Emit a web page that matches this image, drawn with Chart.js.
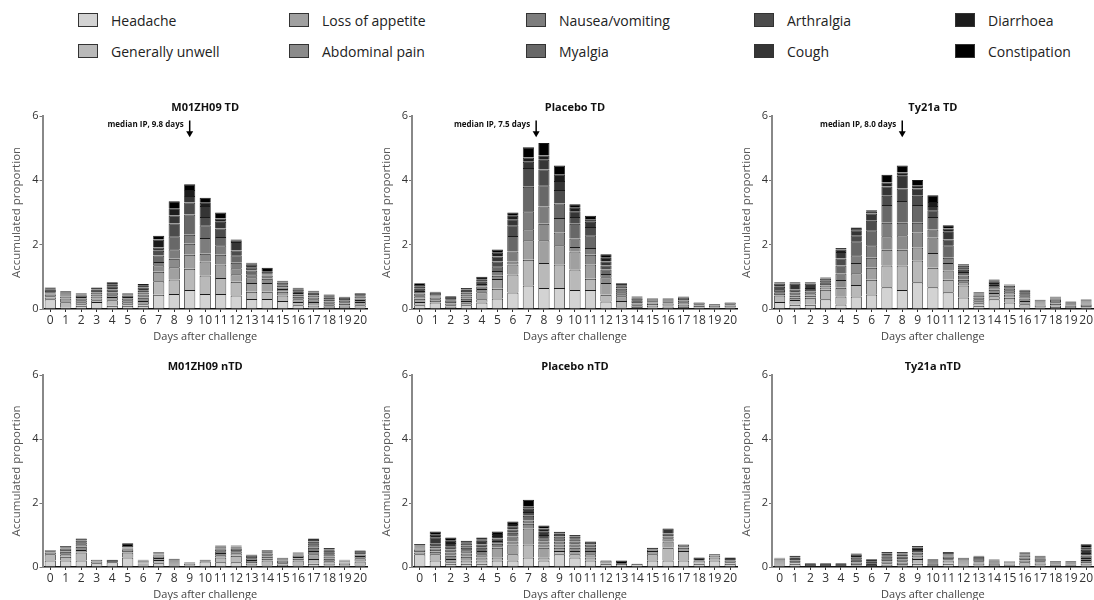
<!DOCTYPE html>
<html>
<head>
<meta charset="utf-8">
<script src="https://cdn.jsdelivr.net/npm/chart.js@4.4.1/dist/chart.umd.min.js"></script>
<style>
  html, body { margin: 0; padding: 0; background: #fff; }
  #page { position: relative; width: 1094px; height: 600px; overflow: hidden; font-family: "Open Sans", sans-serif; }
  #page canvas { position: absolute; }
  .key { position: absolute; height: 16px; display: flex; align-items: center; font-size: 14px; color: #222; white-space: nowrap; }
  .key .box { width: 18px; height: 12px; border: 1px solid #333; margin-right: 13px; }
</style>
</head>
<body>
<div id="page"></div>
<script>
// symptom order, bottom of each stack first
const symptoms = ["Headache", "Generally unwell", "Loss of appetite", "Abdominal pain", "Nausea/vomiting",
  "Myalgia", "Arthralgia", "Cough", "Diarrhoea", "Constipation"];
const shades = ["#d3d3d3", "#b9b9b9", "#a0a0a0", "#8b8b8b", "#7d7d7d", "#686868", "#4c4c4c", "#353535", "#1c1c1c", "#000000"];

const days = ["0","1","2","3","4","5","6","7","8","9","10","11","12","13","14","15","16","17","18","19","20"];
const yTicks = [0, 2, 4, 6];

const panelTitles = ["M01ZH09 TD", "Placebo TD", "Ty21a TD", "M01ZH09 nTD", "Placebo nTD", "Ty21a nTD"];
const medianDays = [9, 7.5, 8];
const medianLabels = ["median IP, 9.8 days", "median IP, 7.5 days", "median IP, 8.0 days"];

// one row per day, one value per symptom (same order as symptoms)
const m01TD = [
  [0.30,0.05,0.05,0.04,0.04,0.04,0.04,0.04,0.03,0.04],
  [0.04,0.17,0.12,0.06,0.04,0.03,0.03,0.03,0.02,0.02],
  [0.10,0.05,0.06,0.06,0.05,0.05,0.04,0.04,0.03,0.02],
  [0.22,0.05,0.06,0.06,0.06,0.06,0.05,0.05,0.04,0.02],
  [0.10,0.17,0.10,0.06,0.04,0.04,0.10,0.10,0.06,0.06],
  [0.10,0.05,0.06,0.06,0.05,0.05,0.05,0.04,0.02,0.02],
  [0.10,0.05,0.10,0.10,0.10,0.06,0.06,0.10,0.05,0.06],
  [0.44,0.42,0.30,0.20,0.10,0.20,0.15,0.10,0.25,0.12],
  [0.47,0.45,0.38,0.26,0.30,0.40,0.40,0.25,0.22,0.22],
  [0.59,0.66,0.44,0.34,0.28,0.63,0.37,0.20,0.19,0.18],
  [0.47,0.57,0.44,0.24,0.49,0.39,0.26,0.34,0.10,0.16],
  [0.47,0.49,0.42,0.31,0.29,0.26,0.26,0.21,0.10,0.19],
  [0.42,0.43,0.23,0.19,0.17,0.23,0.15,0.26,0.04,0.04],
  [0.31,0.23,0.27,0.18,0.09,0.12,0.10,0.09,0.03,0.02],
  [0.31,0.23,0.27,0.13,0.05,0.05,0.03,0.04,0.05,0.12],
  [0.25,0.17,0.12,0.08,0.05,0.05,0.05,0.05,0.03,0.03],
  [0.12,0.10,0.08,0.08,0.06,0.06,0.05,0.05,0.03,0.03],
  [0.05,0.05,0.12,0.08,0.06,0.06,0.05,0.04,0.03,0.03],
  [0.03,0.03,0.06,0.06,0.05,0.06,0.06,0.05,0.03,0.02],
  [0.03,0.03,0.05,0.05,0.05,0.05,0.05,0.04,0.02,0.01],
  [0.05,0.07,0.10,0.06,0.05,0.05,0.05,0.04,0.02,0.01]
];

const placeboTD = [
  [0.12,0.10,0.10,0.08,0.08,0.08,0.07,0.06,0.06,0.05],
  [0.20,0.05,0.05,0.05,0.04,0.04,0.04,0.03,0.02,0.02],
  [0.02,0.05,0.05,0.05,0.05,0.04,0.04,0.04,0.03,0.03],
  [0.12,0.06,0.07,0.07,0.07,0.06,0.06,0.05,0.05,0.04],
  [0.20,0.10,0.22,0.10,0.08,0.08,0.07,0.06,0.05,0.04],
  [0.33,0.30,0.30,0.10,0.15,0.15,0.15,0.15,0.12,0.10],
  [0.51,0.56,0.31,0.10,0.31,0.48,0.33,0.19,0.11,0.10],
  [0.73,0.80,0.61,0.34,0.56,0.76,0.58,0.20,0.13,0.32],
  [0.65,0.78,0.71,0.51,0.54,0.66,0.49,0.30,0.13,0.39],
  [0.65,0.73,0.60,0.40,0.45,0.45,0.42,0.28,0.21,0.27],
  [0.59,0.64,0.56,0.14,0.26,0.46,0.21,0.18,0.11,0.11],
  [0.59,0.35,0.44,0.31,0.21,0.39,0.26,0.16,0.08,0.11],
  [0.23,0.21,0.37,0.18,0.10,0.14,0.12,0.13,0.11,0.11],
  [0.05,0.20,0.15,0.06,0.06,0.06,0.06,0.05,0.05,0.06],
  [0.02,0.04,0.06,0.05,0.05,0.05,0.05,0.04,0.02,0.02],
  [0.05,0.05,0.06,0.04,0.04,0.03,0.03,0.02,0.01,0.01],
  [0.08,0.04,0.05,0.04,0.03,0.03,0.03,0.02,0.01,0.01],
  [0.02,0.04,0.08,0.07,0.05,0.05,0.04,0.03,0.01,0.01],
  [0,0.04,0.06,0.05,0.05,0,0,0,0,0],
  [0,0,0.05,0.05,0.05,0,0,0,0,0],
  [0,0.05,0.05,0.05,0.05,0,0,0,0,0]
];

const ty21aTD = [
  [0.22,0.20,0.05,0.05,0.04,0.03,0.10,0.10,0.02,0.02],
  [0.13,0.15,0.07,0.06,0.05,0.05,0.10,0.18,0.02,0.02],
  [0.13,0.22,0.06,0.08,0.05,0.05,0.06,0.14,0.02,0.02],
  [0.30,0.30,0.07,0.06,0.05,0.05,0.05,0.07,0.02,0.02],
  [0.14,0.25,0.27,0.24,0.20,0.25,0.22,0.20,0.08,0.05],
  [0.39,0.36,0.36,0.32,0.24,0.44,0.18,0.16,0.04,0.04],
  [0.45,0.46,0.37,0.31,0.39,0.47,0.29,0.23,0.05,0.05],
  [0.68,0.67,0.49,0.42,0.42,0.55,0.29,0.29,0.12,0.24],
  [0.59,0.76,0.49,0.45,0.39,0.68,0.39,0.39,0.10,0.22],
  [0.83,0.68,0.40,0.47,0.30,0.55,0.29,0.23,0.10,0.16],
  [0.68,0.60,0.46,0.48,0.25,0.39,0.21,0.13,0.13,0.21],
  [0.52,0.39,0.29,0.23,0.16,0.39,0.18,0.24,0.10,0.10],
  [0.36,0.37,0.10,0.08,0.13,0.11,0.07,0.08,0.05,0.04],
  [0.10,0.08,0.06,0.06,0.06,0.05,0.04,0.03,0.02,0.02],
  [0.30,0.10,0.10,0.10,0.08,0.07,0.06,0.05,0.03,0.03],
  [0.20,0.15,0.10,0.07,0.06,0.05,0.05,0.04,0.02,0.02],
  [0.05,0.10,0.10,0.08,0.07,0.06,0.06,0.05,0.02,0.01],
  [0.05,0.05,0.04,0.03,0.03,0.03,0.02,0.02,0.01,0.01],
  [0.06,0.05,0.05,0.05,0.04,0.04,0.04,0.03,0.02,0.01],
  [0,0.03,0.03,0.03,0.03,0.03,0.03,0.03,0.01,0.01],
  [0.05,0.04,0.04,0.04,0.03,0.03,0.03,0.02,0.01,0.01]
];

const m01NTD = [
  [0.20,0.20,0.05,0.04,0.03,0,0,0,0,0],
  [0.20,0.12,0.08,0.08,0.05,0.05,0.04,0.04,0,0],
  [0.20,0.25,0.08,0.10,0.08,0.06,0.06,0.06,0,0],
  [0.12,0,0.05,0.06,0,0,0,0,0,0],
  [0.15,0,0,0,0,0,0.04,0.04,0,0],
  [0.30,0.15,0.05,0.04,0.02,0.02,0.02,0.02,0.04,0.08],
  [0.05,0.03,0.02,0.02,0.02,0.02,0.02,0.02,0.01,0.02],
  [0.12,0.10,0.06,0.04,0.03,0.03,0.02,0.02,0.02,0.02],
  [0.05,0,0,0.03,0.03,0.03,0.03,0.03,0.03,0.03],
  [0.05,0.05,0,0,0,0,0.02,0.02,0.01,0.01],
  [0.17,0,0,0,0,0,0.02,0.02,0.01,0.01],
  [0.15,0.15,0.07,0.07,0.05,0.05,0.04,0.04,0.02,0.03],
  [0.15,0.20,0.08,0.06,0.04,0.04,0.03,0.03,0.02,0.02],
  [0.05,0.05,0.06,0.06,0.05,0.04,0.03,0.03,0.01,0.01],
  [0.05,0.15,0.06,0.06,0.05,0.05,0.04,0.03,0.01,0.02],
  [0.02,0.05,0.05,0.04,0.04,0.03,0.02,0.02,0.01,0.01],
  [0.05,0.15,0.06,0.05,0.04,0.04,0.03,0.02,0.01,0.01],
  [0.10,0.15,0.15,0.10,0.10,0.08,0.06,0.06,0.04,0.05],
  [0.05,0.05,0.08,0.08,0.07,0.07,0.06,0.06,0.03,0.04],
  [0.05,0.05,0.03,0.02,0.02,0.02,0.01,0.01,0.01,0.01],
  [0.05,0.12,0.10,0.07,0.05,0.05,0.03,0.03,0.01,0.01]
];

const placeboNTD = [
  [0.40,0.05,0.05,0.04,0.04,0.03,0.03,0.03,0.02,0.03],
  [0.20,0.20,0.08,0.05,0.05,0.05,0.10,0.20,0.08,0.10],
  [0.10,0.05,0.10,0.10,0.10,0.10,0.10,0.10,0.07,0.10],
  [0.10,0.10,0.12,0.10,0.10,0.08,0.07,0.06,0.04,0.05],
  [0.10,0.10,0.10,0.10,0.10,0.10,0.10,0.12,0.05,0.05],
  [0.20,0.10,0.30,0.05,0.08,0.08,0.08,0.08,0.06,0.08],
  [0.20,0.20,0.30,0.10,0.15,0.12,0.10,0.10,0.07,0.08],
  [0.30,0.40,0.50,0.15,0.10,0.15,0.12,0.10,0.08,0.20],
  [0.20,0.10,0.30,0.10,0.10,0.10,0.10,0.10,0.10,0.10],
  [0.40,0.10,0.10,0.10,0.10,0.10,0.05,0.05,0.05,0.05],
  [0.30,0.10,0.10,0.10,0.10,0.10,0.05,0.05,0.05,0.05],
  [0.20,0.10,0.10,0.10,0.10,0.10,0.05,0.05,0,0],
  [0.10,0,0.10,0,0,0,0,0,0,0],
  [0.10,0,0,0,0,0,0,0,0,0.10],
  [0.10,0,0,0,0,0,0,0,0,0],
  [0.20,0.20,0.10,0.05,0,0,0,0,0,0.05],
  [0.20,0.40,0.20,0.10,0.05,0.05,0.05,0.15,0,0],
  [0.20,0.30,0.10,0.05,0.05,0,0,0,0,0],
  [0.10,0.10,0,0,0,0,0,0,0.10,0],
  [0.20,0.10,0.05,0.05,0,0,0,0,0,0],
  [0.10,0.05,0.05,0,0,0,0,0,0.05,0.05]
];

const ty21aNTD = [
  [0.05,0.03,0.03,0.03,0.03,0.03,0.03,0.03,0.01,0.02],
  [0.10,0.05,0,0,0,0,0.05,0.05,0.05,0.05],
  [0,0,0,0,0,0,0.03,0.03,0.03,0.03],
  [0,0,0,0,0,0,0.03,0.03,0.03,0.03],
  [0,0,0,0,0,0,0.03,0.03,0.03,0.03],
  [0.02,0.03,0.04,0.05,0.05,0.05,0.05,0.05,0.04,0.04],
  [0,0,0,0,0,0,0.06,0.06,0.06,0.06],
  [0.03,0.04,0.05,0.05,0.05,0.05,0.05,0.05,0.05,0.05],
  [0.05,0.04,0.04,0.05,0.05,0.05,0.05,0.05,0.04,0.05],
  [0.10,0.15,0.05,0.05,0.05,0.05,0.05,0.06,0.05,0.05],
  [0,0,0.03,0.03,0.03,0.03,0.03,0.03,0.03,0.03],
  [0.10,0.10,0.04,0.04,0.04,0.03,0.03,0.03,0.03,0.03],
  [0.05,0.03,0.03,0.03,0.03,0.03,0.03,0.03,0.02,0.01],
  [0.05,0.05,0.04,0.04,0.04,0.03,0.03,0.03,0.02,0.02],
  [0.03,0.03,0.03,0.03,0.03,0.03,0.02,0.02,0.01,0.01],
  [0.02,0.02,0.02,0.02,0.02,0.02,0.02,0.02,0.01,0.01],
  [0.05,0.10,0.05,0.05,0.05,0.05,0.04,0.04,0.02,0.02],
  [0.05,0.05,0.04,0.04,0.04,0.04,0.03,0.03,0.02,0.01],
  [0,0,0.02,0.02,0.02,0.02,0.03,0.03,0.02,0.02],
  [0,0,0.02,0.02,0.02,0.02,0.03,0.03,0.02,0.02],
  [0.05,0.05,0.06,0.06,0.06,0.08,0.08,0.10,0.08,0.09]
];

const panelData = [m01TD, placeboTD, ty21aTD, m01NTD, placeboNTD, ty21aNTD];

// canvas boxes: left, top, width, height, y-axis width
const boxes = [
  [0, 98, 368, 251, 42.5], [370, 98, 368, 251, 42], [730, 98, 364, 251, 42],
  [0, 357, 368, 250, 42.5], [370, 357, 368, 250, 42], [730, 357, 364, 250, 42]
];

const page = document.getElementById("page");

// legend, two rows, filled column by column
const keyCols = [78, 289, 526, 754, 955];
const keyRows = [12, 43];
symptoms.forEach((name, i) => {
  const el = document.createElement("div");
  el.className = "key";
  el.style.left = keyCols[Math.floor(i / 2)] + "px";
  el.style.top = keyRows[i % 2] + "px";
  el.innerHTML = `<span class="box" style="background:${shades[i]}"></span>${name}`;
  page.appendChild(el);
});

// arrow + label for the median incubation period
const medianMarker = {
  id: "medianMarker",
  afterDraw(chart, args, opts) {
    if (opts.day == null) return;
    const { ctx, scales: { x, y } } = chart;
    const px = x.getPixelForValue(opts.day);
    const top = y.getPixelForValue(5.86);
    const tip = y.getPixelForValue(5.34);
    ctx.save();
    ctx.strokeStyle = "#000";
    ctx.fillStyle = "#000";
    ctx.lineWidth = 1.5;
    ctx.beginPath();
    ctx.moveTo(px, top);
    ctx.lineTo(px, tip - 5);
    ctx.stroke();
    ctx.beginPath();
    ctx.moveTo(px - 3.5, tip - 6);
    ctx.lineTo(px + 3.5, tip - 6);
    ctx.lineTo(px, tip);
    ctx.closePath();
    ctx.fill();
    ctx.font = 'bold 8px "Open Sans"';
    ctx.textAlign = "right";
    ctx.textBaseline = "middle";
    ctx.fillStyle = "#111";
    ctx.fillText(opts.text, px - 6, y.getPixelForValue(5.72));
    ctx.restore();
  }
};

function makePanel(i) {
  const [left, top, w, h, yw] = boxes[i];
  const canvas = document.createElement("canvas");
  canvas.width = w;
  canvas.height = h;
  canvas.style.left = left + "px";
  canvas.style.top = top + "px";
  page.appendChild(canvas);

  const rows = panelData[i];
  const datasets = symptoms.map((name, k) => ({
    label: name,
    data: rows.map((r) => r[k]),
    backgroundColor: shades[k],
    borderColor: "#1a1a1a",
    borderWidth: { top: 1, left: 0.8, right: 0.8, bottom: 0 },
    borderSkipped: false,
    barPercentage: 0.72,
    categoryPercentage: 1,
  }));

  const hasMedian = i < 3;

  new Chart(canvas, {
    type: "bar",
    data: { labels: days, datasets },
    plugins: hasMedian ? [medianMarker] : [],
    options: {
      responsive: false,
      animation: false,
      layout: { padding: 0 },
      plugins: {
        legend: { display: false },
        tooltip: { enabled: false },
        title: {
          display: true,
          text: panelTitles[i],
          fullSize: false,
          color: "#111",
          font: { family: "Open Sans", size: 11, weight: "bold" },
          padding: { top: 3.4, bottom: 1.4 },
        },
        medianMarker: hasMedian ? { day: medianDays[i], text: medianLabels[i] } : {},
      },
      scales: {
        x: {
          stacked: true,
          offset: true,
          ticks: { color: "#333", font: { family: "Open Sans", size: 12 }, padding: 1, maxRotation: 0, autoSkip: false },
          grid: { drawOnChartArea: false, offset: false, tickLength: 3, color: "#333" },
          border: { color: "#111", width: 1.5 },
          title: {
            display: true,
            text: "Days after challenge",
            color: "#444",
            font: { family: "Open Sans", size: 11 },
            padding: { top: 0, bottom: 5.5 },
          },
          afterFit(scale) { scale.height = 40; },
        },
        y: {
          stacked: true,
          min: 0,
          max: 6,
          afterBuildTicks(scale) { scale.ticks = yTicks.map((v) => ({ value: v })); },
          ticks: { color: "#333", font: { family: "Open Sans", size: 11 }, padding: 1 },
          grid: { drawOnChartArea: false, tickLength: 3, color: "#777" },
          border: { color: "#888", width: 2 },
          title: {
            display: true,
            text: "Accumulated proportion",
            color: "#555",
            font: { family: "Open Sans", size: 11.5 },
            padding: { top: 10, bottom: 0 },
          },
          afterFit(scale) { scale.width = yw; },
        },
      },
    },
  });
}

for (let i = 0; i < 6; i++) makePanel(i);
</script>
</body>
</html>
